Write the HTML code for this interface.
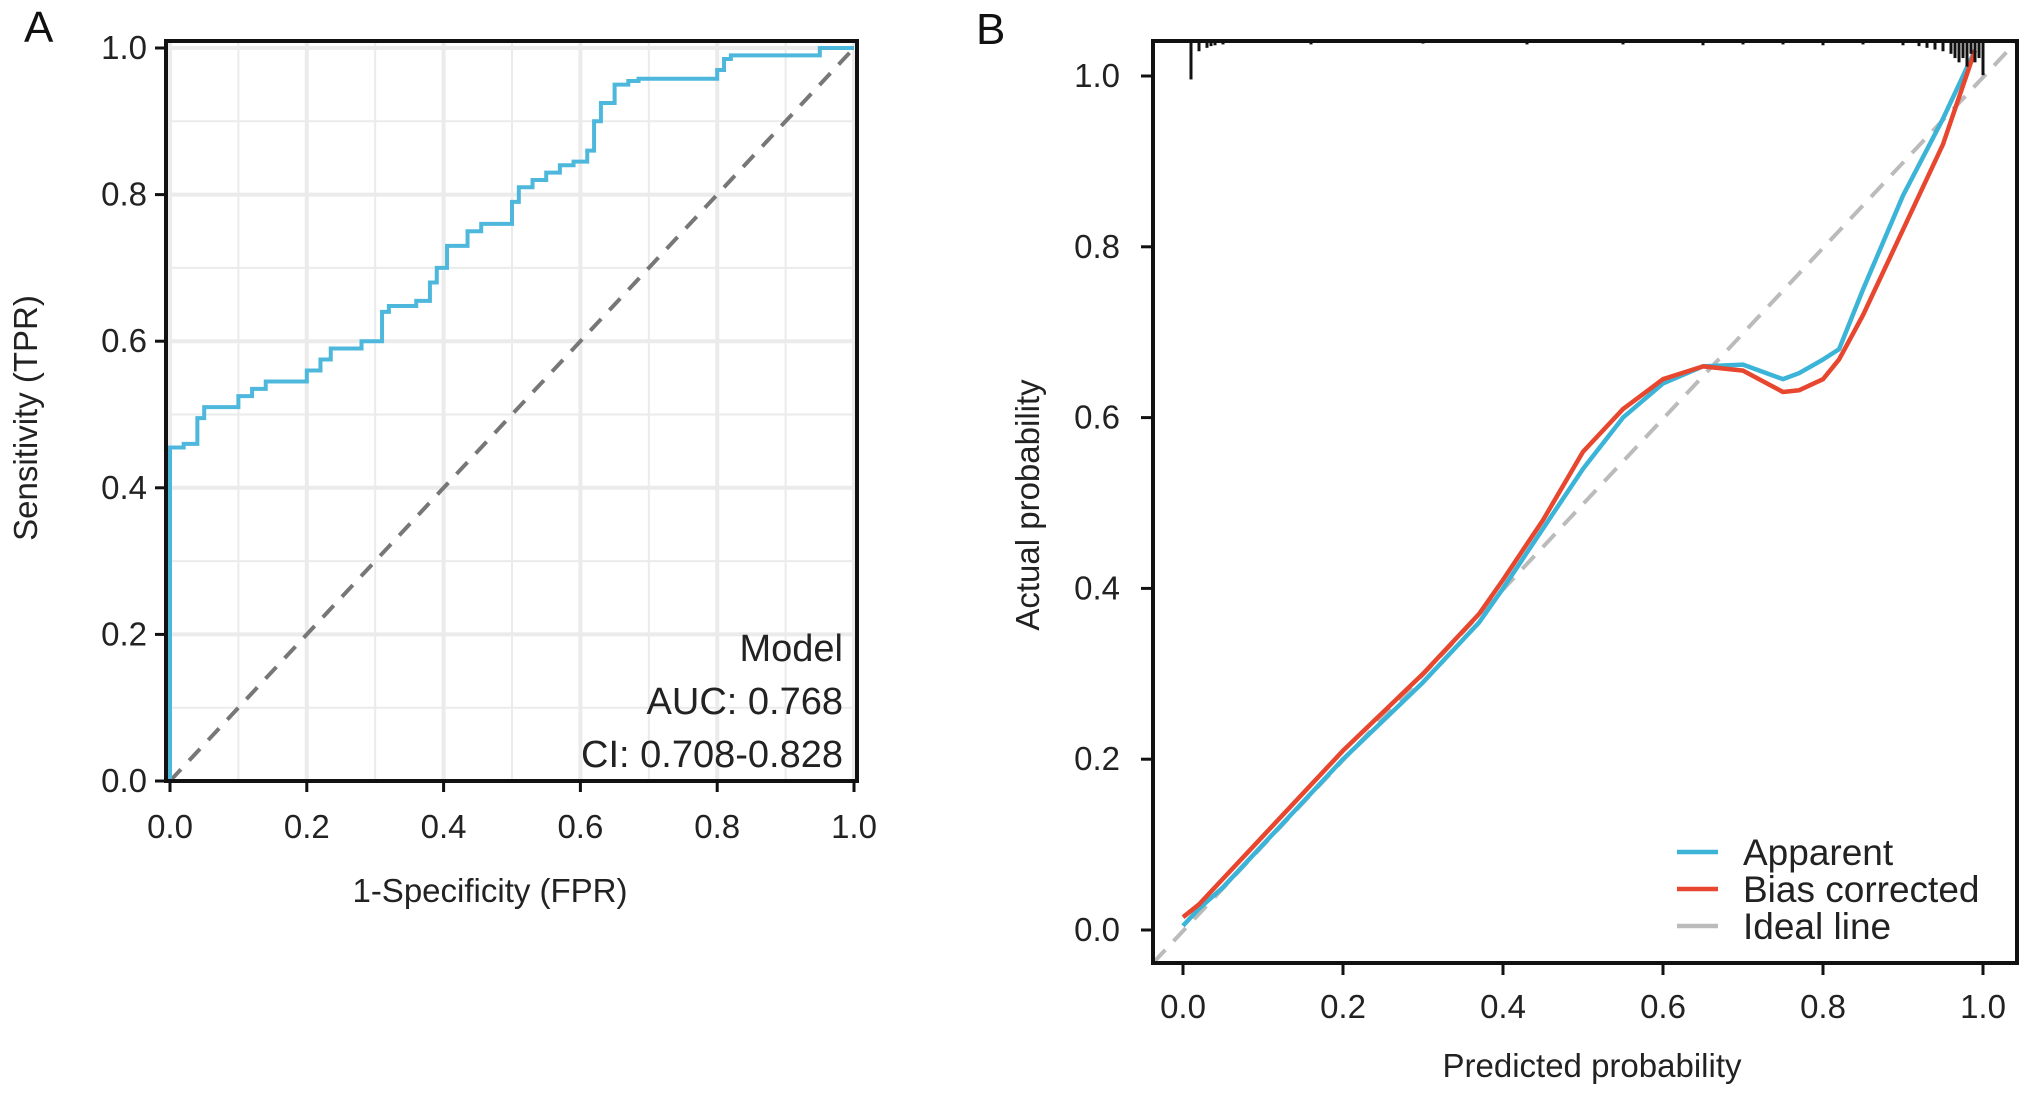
<!DOCTYPE html>
<html><head><meta charset="utf-8"><style>
html,body{margin:0;padding:0;background:#fff;}
svg{display:block;font-family:"Liberation Sans",Arial,sans-serif;}
</style></head><body>
<svg id="fig" width="2032" height="1096" viewBox="0 0 2032 1096" xmlns="http://www.w3.org/2000/svg">
<g id="pa"></g>
<g id="pb"></g>
</svg>
<script>
// ROC data (corner points of the step curve)
const rocFpr=[0,0,0.02,0.02,0.04,0.04,0.05,0.05,0.1,0.1,0.12,0.12,0.14,0.14,0.2,0.2,0.22,0.22,0.235,0.235,0.28,0.28,0.31,0.31,0.32,0.32,0.36,0.36,0.38,0.38,0.39,0.39,0.405,0.405,0.435,0.435,0.455,0.455,0.5,0.5,0.51,0.51,0.53,0.53,0.55,0.55,0.57,0.57,0.59,0.59,0.61,0.61,0.62,0.62,0.63,0.63,0.65,0.65,0.67,0.67,0.685,0.685,0.7,0.7,0.8,0.8,0.81,0.81,0.82,0.82,0.85,0.85,0.95,0.95,1];
const rocTpr=[0,0.455,0.455,0.46,0.46,0.495,0.495,0.51,0.51,0.525,0.525,0.535,0.535,0.545,0.545,0.56,0.56,0.575,0.575,0.59,0.59,0.6,0.6,0.64,0.64,0.648,0.648,0.655,0.655,0.68,0.68,0.7,0.7,0.73,0.73,0.75,0.75,0.76,0.76,0.79,0.79,0.81,0.81,0.82,0.82,0.83,0.83,0.84,0.84,0.845,0.845,0.86,0.86,0.9,0.9,0.925,0.925,0.95,0.95,0.955,0.955,0.958,0.958,0.958,0.958,0.97,0.97,0.985,0.985,0.99,0.99,0.99,0.99,1,1];
const ticksAB=[0,0.2,0.4,0.6,0.8,1.0];
const tickLabels=["0.0","0.2","0.4","0.6","0.8","1.0"];
// Calibration data
const calX=[0,0.02,0.05,0.1,0.2,0.3,0.37,0.4,0.45,0.5,0.55,0.6,0.65,0.7,0.75,0.77,0.8,0.82,0.85,0.9,0.95,0.99];
const apparentY=[0.005,0.025,0.05,0.1,0.2,0.29,0.36,0.4,0.47,0.54,0.6,0.64,0.66,0.662,0.645,0.652,0.668,0.68,0.75,0.86,0.95,1.03];
const biasY=[0.015,0.03,0.06,0.11,0.21,0.3,0.37,0.41,0.48,0.56,0.61,0.645,0.66,0.655,0.63,0.632,0.645,0.668,0.72,0.82,0.92,1.03];
const rugX=[0.01,0.02,0.03,0.035,0.04,0.05,0.16,0.3,0.43,0.55,0.65,0.7,0.75,0.8,0.85,0.9,0.92,0.93,0.94,0.95,0.96,0.965,0.97,0.975,0.98,0.985,0.99,0.995,1.0];
const rugLen=[0.045,0.012,0.008,0.006,0.005,0.004,0.004,0.003,0.004,0.004,0.005,0.004,0.004,0.005,0.004,0.005,0.006,0.008,0.01,0.012,0.015,0.02,0.025,0.02,0.03,0.015,0.025,0.02,0.04];

const NS="http://www.w3.org/2000/svg";
function mk(tag,attrs,parent,txt){const e=document.createElementNS(NS,tag);for(const k in attrs)e.setAttribute(k,attrs[k]);if(txt!==undefined)e.textContent=txt;parent.appendChild(e);return e;}
const pa=document.getElementById('pa'),pb=document.getElementById('pb');

// Panel A scales
const ax=v=>170+v*(854-170), ay=v=>781-v*(781-48);
let t=mk('text',{x:24,y:42,'font-size':44,fill:'#111'},pa,'A');


for(let i=0;i<=10;i++){const v=i/10;const w=i%2?2:4;
 let g=mk('line',{x1:ax(v),x2:ax(v),y1:41,y2:781,stroke:'#ebebeb','stroke-width':w},pa);
 
 g=mk('line',{y1:ay(v),y2:ay(v),x1:166,x2:857,stroke:'#ebebeb','stroke-width':w},pa);
 }
let dg=mk('line',{x1:ax(0),y1:ay(0),x2:ax(1),y2:ay(1),stroke:'#777','stroke-width':4,'stroke-dasharray':'16,12'},pa);

let rp=mk('polyline',{points:rocFpr.map((f,i)=>ax(f)+','+ay(rocTpr[i])).join(' '),fill:'none',stroke:'#4db8dc','stroke-width':4},pa);

let bx=mk('path',{d:'M166,41 H857 V781 H166 Z',fill:'none',stroke:'#111','stroke-width':4},pa);

ticksAB.forEach((v,i)=>{
 let l=mk('line',{x1:ax(v),x2:ax(v),y1:781,y2:792,stroke:'#111','stroke-width':3},pa);
 
 let tx=mk('text',{x:ax(v),y:838,'font-size':33,'text-anchor':'middle',fill:'#222'},pa,tickLabels[i]);
 
 l=mk('line',{x1:155,x2:166,y1:ay(v),y2:ay(v),stroke:'#111','stroke-width':3},pa);
 
 tx=mk('text',{x:147,y:ay(v)+11,'font-size':33,'text-anchor':'end',fill:'#222'},pa,tickLabels[i]);
 });
t=mk('text',{x:490,y:902,'font-size':33,'text-anchor':'middle',fill:'#222'},pa,'1-Specificity (FPR)');

t=mk('text',{x:0,y:0,'font-size':33,'text-anchor':'middle',fill:'#222',transform:'translate(37,418) rotate(-90)'},pa,'Sensitivity (TPR)');

[['Model',661,'model-label'],['AUC: 0.768',714,'auc-label'],['CI: 0.708-0.828',767,'ci-label']].forEach(r=>{
 let e=mk('text',{x:843,y:r[1],'font-size':38,'text-anchor':'end',fill:'#222'},pa,r[0]);
 });

// Panel B scales
const bxs=v=>1183+v*(1983-1183), bys=v=>930-v*(930-76);
t=mk('text',{x:976,y:44,'font-size':44,fill:'#111'},pb,'B');

let idl=mk('line',{x1:1153,y1:963,x2:2017,y2:41,stroke:'#bbb','stroke-width':4,'stroke-dasharray':'18,12'},pb);

let ap=mk('polyline',{points:calX.map((x,i)=>bxs(x)+','+bys(apparentY[i])).join(' '),fill:'none',stroke:'#3cb4d8','stroke-width':4.5,'stroke-linejoin':'round'},pb);

let bc=mk('polyline',{points:calX.map((x,i)=>bxs(x)+','+bys(biasY[i])).join(' '),fill:'none',stroke:'#e8472f','stroke-width':4.5,'stroke-linejoin':'round'},pb);

rugX.forEach((x,i)=>{let r=mk('line',{x1:bxs(x),x2:bxs(x),y1:41,y2:41+rugLen[i]*(930-76),stroke:'#111','stroke-width':3},pb);
 });
bx=mk('path',{d:'M1153,41 H2017 V963 H1153 Z',fill:'none',stroke:'#111','stroke-width':4},pb);

ticksAB.forEach((v,i)=>{
 let l=mk('line',{x1:bxs(v),x2:bxs(v),y1:963,y2:975,stroke:'#111','stroke-width':3},pb);
 
 let tx=mk('text',{x:bxs(v),y:1018,'font-size':33,'text-anchor':'middle',fill:'#222'},pb,tickLabels[i]);
 
 l=mk('line',{x1:1141,x2:1153,y1:bys(v),y2:bys(v),stroke:'#111','stroke-width':3},pb);
 
 tx=mk('text',{x:1120,y:bys(v)+11,'font-size':33,'text-anchor':'end',fill:'#222'},pb,tickLabels[i]);
 });
t=mk('text',{x:1592,y:1077,'font-size':33,'text-anchor':'middle',fill:'#222'},pb,'Predicted probability');

t=mk('text',{x:0,y:0,'font-size':33,'text-anchor':'middle',fill:'#222',transform:'translate(1039,505) rotate(-90)'},pb,'Actual probability');

[['Apparent','#3cb4d8',852,'legend-apparent'],['Bias corrected','#e8472f',889,'legend-bias-corrected'],['Ideal line','#bbb',926,'legend-ideal-line']].forEach(r=>{
 let g=mk('g',{},pb);
 mk('line',{x1:1677,x2:1718,y1:r[2],y2:r[2],stroke:r[1],'stroke-width':4.5},g);
 mk('text',{x:1743,y:r[2]+13,'font-size':37,fill:'#222'},g,r[0]);});
</script>
</body></html>
